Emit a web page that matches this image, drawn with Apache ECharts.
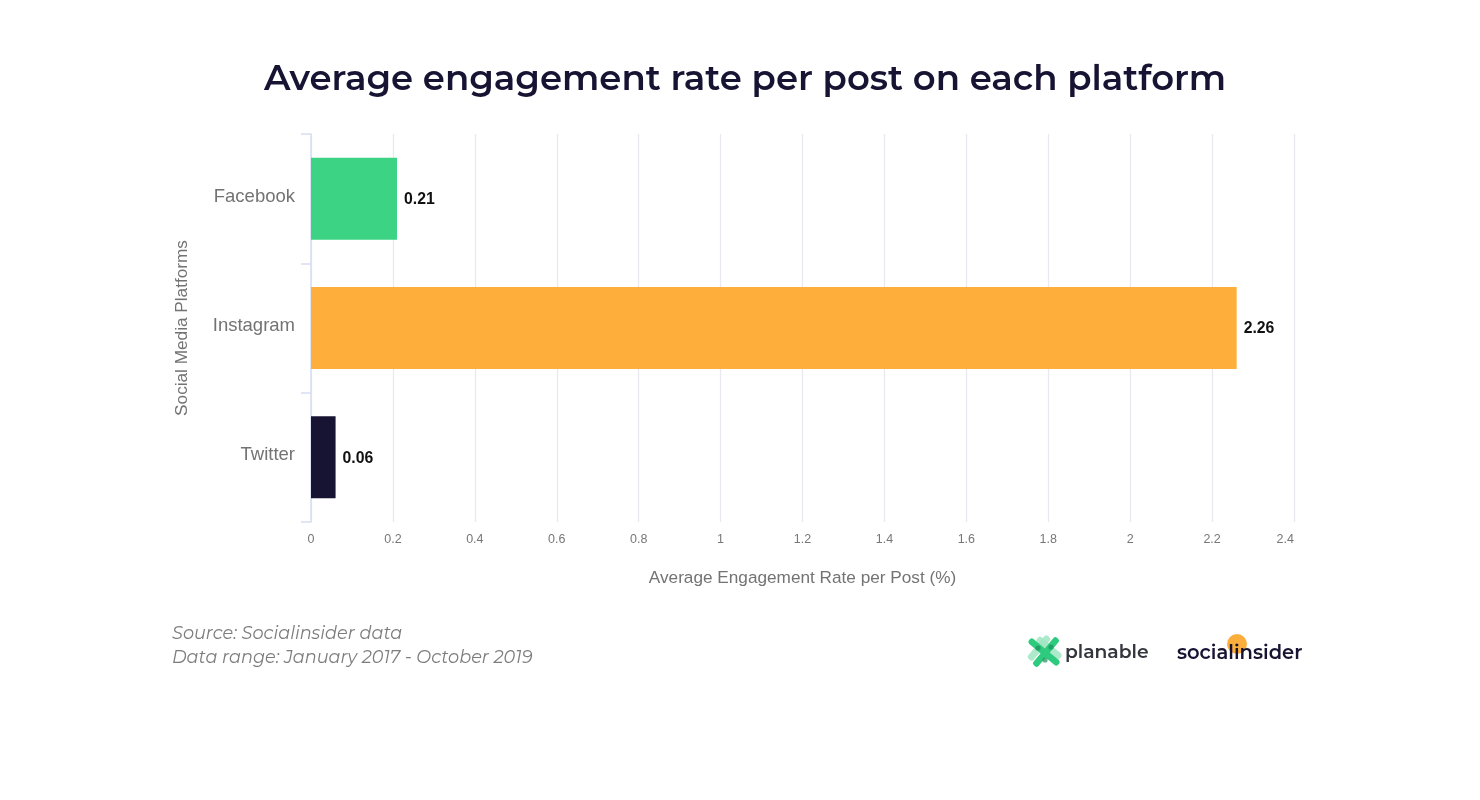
<!DOCTYPE html>
<html><head><meta charset="utf-8">
<style>html,body{margin:0;padding:0;background:#fff}#c{width:1480px;height:800px}</style>
<script src="https://cdn.jsdelivr.net/npm/echarts@6/dist/echarts.min.js"></script>
</head><body><div id="c"></div>
<script>
const categories = ['Facebook', 'Instagram', 'Twitter'];
const values = [0.21, 2.26, 0.06];
const colors = ['#3cd484', '#fdae3b', '#171333'];
const titleText = 'Average engagement rate per post on each platform';
const xName = 'Average Engagement Rate per Post (%)';
const yName = 'Social Media Platforms';
const sourceLines = ['Source: Socialinsider data', 'Data range: January 2017 - October 2019'];

const chart = echarts.init(document.getElementById('c'), null, {renderer: 'canvas'});
const bar = (x, y, w, h, deg, fill, op) => ({
  type: 'rect', x, y, rotation: deg * Math.PI / 180, originX: 0, originY: 0,
  shape: {x: -w / 2, y: -h / 2, width: w, height: h, r: 2.5},
  style: {fill, opacity: op}
});
chart.setOption({
  animation: false,
  backgroundColor: '#fff',
  title: {
    text: titleText, left: 740, top: 57, textAlign: 'center',
    textStyle: {fontFamily: 'Montserrat', fontWeight: 600, fontSize: 35.45, color: '#171333'}
  },
  grid: {left: 311, right: 186, top: 134, bottom: 278, containLabel: false},
  xAxis: {
    type: 'value', min: 0, max: 2.4, interval: 0.2,
    name: xName, nameLocation: 'middle', nameGap: 48,
    nameTextStyle: {fontFamily: 'Liberation Sans', fontSize: 17.2, color: '#737373'},
    axisLine: {show: false}, axisTick: {show: false},
    axisLabel: {
      fontFamily: 'Liberation Sans', fontSize: 12.5, color: '#777', margin: 11,
      alignMaxLabel: 'right',
      formatter: v => String(Math.round(v * 10) / 10)
    },
    splitLine: {show: true, lineStyle: {color: '#e8e9f0', width: 1.3}}
  },
  yAxis: {
    type: 'category', inverse: true, data: categories,
    name: yName, nameLocation: 'middle', nameGap: 120,
    nameTextStyle: {fontFamily: 'Liberation Sans', fontSize: 17.2, color: '#737373'},
    axisLine: {show: true, lineStyle: {color: '#d9ddf2', width: 1.5}},
    axisTick: {show: true, length: 10, lineStyle: {color: '#d9ddf2', width: 1.5}},
    axisLabel: {
      fontFamily: 'Liberation Sans', fontSize: 18.5, color: '#737373', margin: 16,
      verticalAlign: 'bottom', lineHeight: 4
    }
  },
  series: [{
    type: 'bar', barWidth: 82,
    data: values.map((v, i) => ({value: v, itemStyle: {color: colors[i]}})),
    label: {
      show: true, position: 'right', distance: 7, offset: [0, 1],
      fontFamily: 'Liberation Sans', fontWeight: 'bold', fontSize: 15.8, color: '#111'
    }
  }],
  graphic: [
    {type: 'text', x: 172, y: 625, style: {text: sourceLines[0], font: 'italic 400 17.7px Montserrat', fill: '#7d7d7d'}},
    {type: 'text', x: 172, y: 649, style: {text: sourceLines[1], font: 'italic 400 17.7px Montserrat', fill: '#7d7d7d'}},
    // planable mark
    bar(1039, 648, 30, 7, 50, '#9fe6c2', 0.85),
    bar(1049, 648, 30, 7, -40, '#9fe6c2', 0.85),
    bar(1046, 652, 36, 6.5, 50, '#2ecb7f', 1),
    bar(1044, 652, 38, 6.5, -40, '#2ecb7f', 1),
    {type: 'circle', shape: {cx: 1038, cy: 648, r: 2.6}, style: {fill: '#1d8f5c', opacity: 0.7}},
    {type: 'circle', shape: {cx: 1051, cy: 647, r: 2.6}, style: {fill: '#1d8f5c', opacity: 0.7}},
    {type: 'circle', shape: {cx: 1045, cy: 660, r: 2.6}, style: {fill: '#1d8f5c', opacity: 0.7}},
    {type: 'text', x: 1065, y: 643, style: {text: 'planable', font: '600 18.7px Montserrat', fill: '#33363d'}},
    // socialinsider mark
    {type: 'circle', shape: {cx: 1237, cy: 644, r: 10}, style: {fill: '#fbae3c'}},
    {type: 'text', x: 1177, y: 643, style: {text: 'socialinsider', font: '600 19.5px Montserrat', fill: '#171333'}}
  ]
});
</script></body></html>
